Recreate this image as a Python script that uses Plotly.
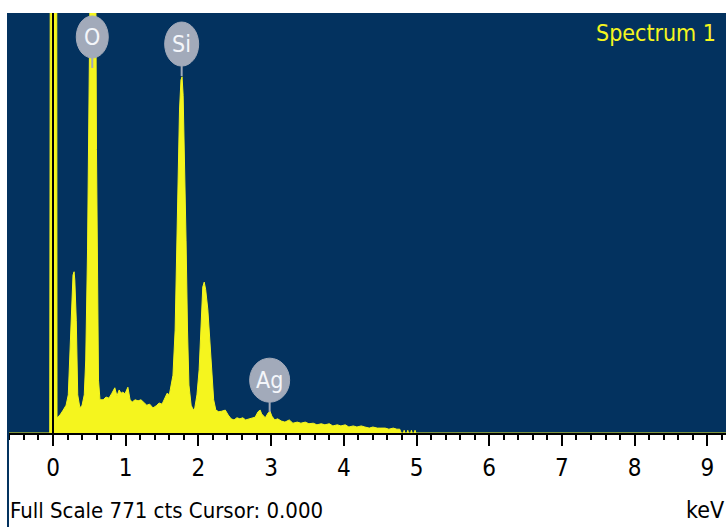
import plotly.graph_objects as go

# ---- data ----
energy_kev = [-0.62, -0.045, -0.035, 0.05, 0.055, 0.096, 0.14, 0.18, 0.21, 0.23, 0.26, 0.275, 0.29, 0.30,
              0.32, 0.33, 0.34, 0.37, 0.40, 0.43, 0.45, 0.475, 0.495, 0.515, 0.53, 0.56, 0.578, 0.598,
              0.612, 0.626, 0.646, 0.69, 0.73, 0.77, 0.81, 0.85, 0.88, 0.91, 0.935, 0.96, 0.99,
              1.02, 1.03, 1.06, 1.09, 1.13, 1.17, 1.21, 1.25, 1.29, 1.33, 1.375, 1.42, 1.46, 1.50,
              1.54, 1.57, 1.60, 1.62, 1.65, 1.68, 1.70, 1.72, 1.74, 1.76, 1.775, 1.79, 1.81, 1.83,
              1.85, 1.87, 1.90, 1.93, 1.95, 1.98, 2.01, 2.04, 2.06, 2.08, 2.10, 2.13, 2.16, 2.19,
              2.21, 2.24, 2.28, 2.32, 2.37, 2.41, 2.45, 2.49, 2.53, 2.57, 2.61, 2.65, 2.70, 2.74,
              2.78, 2.82, 2.85, 2.87, 2.92, 2.96, 2.985, 3.01, 3.05, 3.09, 3.14, 3.19, 3.25, 3.30,
              3.36, 3.41, 3.47, 3.52, 3.58, 3.63, 3.69, 3.74, 3.80, 3.85, 3.91, 3.96, 4.02, 4.07,
              4.13, 4.18, 4.24, 4.29, 4.35, 4.40, 4.46, 4.51, 4.57, 4.62, 4.68, 4.73, 4.77, 4.79,
              4.82, 4.83, 4.84, 4.87, 4.88, 4.89, 4.92, 4.93, 4.94, 4.97, 4.98, 4.99,
              9.3]
counts = [0, 0, 1200, 1200, 28, 33, 42, 51, 70, 134, 244, 290, 296, 281,
          207, 116, 70, 46, 51, 70, 134, 336, 575, 887, 1200, 1200, 1200, 520,
          244, 97, 61, 61, 66, 64, 73, 83, 68, 79, 73, 75, 72,
          79, 84, 61, 57, 61, 59, 61, 55, 51, 53, 46, 50, 55, 53,
          64, 73, 70, 88, 106, 189, 318, 483, 593, 648, 654, 620, 501, 354,
          189, 88, 51, 42, 46, 70, 116, 207, 268, 277, 263, 226, 162, 97,
          61, 42, 39, 40, 42, 33, 26, 24, 28, 26, 28, 24, 26, 28,
          29, 39, 42, 35, 28, 37, 40, 31, 24, 26, 22, 20, 24, 18,
          20, 18, 20, 17, 18, 15, 17, 15, 17, 13, 15, 13, 15, 11,
          13, 11, 13, 11, 9, 11, 9, 9, 9, 7, 9, 7, 7, 0,
          0, 5, 0, 0, 5, 0, 0, 5, 0, 0, 5, 0,
          0]

tick_values = [0, 1, 2, 3, 4, 5, 6, 7, 8, 9]
tick_labels = ["0", "1", "2", "3", "4", "5", "6", "7", "8", "9"]

peak_labels = ["O", "Si", "Ag"]
peak_label_kev = [0.54, 1.77, 2.98]
peak_label_cts = [727, 714, 97]
peak_label_halfwidth = [16, 17, 20]
peak_label_halfheight = [21, 22, 22]

full_scale = 771
cursor_kev = 0.0

BG = "#03325F"
YEL = "#F5F51E"
LBL = "#A2AABA"
FONT = "Liberation Sans Narrow, Arial Narrow, DejaVu Sans Condensed, sans-serif"

fig = go.Figure()
fig.add_trace(go.Scatter(x=energy_kev, y=counts, mode="lines", fill="tozeroy",
                         line=dict(color=YEL, width=1), fillcolor=YEL,
                         hoverinfo="skip", showlegend=False))

shapes = []
# cursor line
shapes.append(dict(type="line", xref="x", yref="paper", x0=cursor_kev, x1=cursor_kev,
                   y0=0, y1=1, line=dict(color="black", width=2)))
# left border strip
shapes.append(dict(type="line", xref="paper", yref="paper", x0=0, x1=0, y0=-0.3, y1=1,
                   line=dict(color=BG, width=2)))
annotations = []
for name, e, c, hw, hh in zip(peak_labels, peak_label_kev, peak_label_cts,
                              peak_label_halfwidth, peak_label_halfheight):
    shapes.append(dict(type="line", xref="x", yref="y", xsizemode="pixel", ysizemode="pixel",
                       xanchor=e, yanchor=c, x0=0, x1=0, y0=-hh, y1=-hh - 10,
                       line=dict(color=LBL, width=2)))
    shapes.append(dict(type="circle", xref="x", yref="y", xsizemode="pixel", ysizemode="pixel",
                       xanchor=e, yanchor=c, x0=-hw, x1=hw, y0=-hh, y1=hh,
                       fillcolor=LBL, line=dict(color=LBL, width=1)))
    annotations.append(dict(x=e, y=c, xref="x", yref="y", text=name, showarrow=False,
                            font=dict(family=FONT, size=23, color="#F4F6FA"),
                            xanchor="center", yanchor="middle"))

annotations.append(dict(x=(718 - 8) / 718, y=1 - (33 - 13) / 420, xref="paper", yref="paper",
                        text="Spectrum 1", showarrow=False, xanchor="right", yanchor="middle",
                        font=dict(family=FONT, size=23, color=YEL)))
annotations.append(dict(x=(10 - 8) / 718, y=-(510 - 433) / 420, xref="paper", yref="paper",
                        text="Full Scale %d cts Cursor: %.3f" % (full_scale, cursor_kev),
                        showarrow=False, xanchor="left", yanchor="middle", xshift=-2,
                        font=dict(family=FONT, size=22, color="black")))
annotations.append(dict(x=1.0, y=-(510 - 433) / 420, xref="paper", yref="paper",
                        text="keV", showarrow=False, xanchor="right", yanchor="middle",
                        font=dict(family=FONT, size=23, color="black")))

fig.update_layout(
    width=726, height=527,
    margin=dict(l=8, r=0, t=13, b=94, pad=0),
    paper_bgcolor="white", plot_bgcolor=BG,
    shapes=shapes, annotations=annotations, showlegend=False,
    xaxis=dict(range=[-0.619, 9.257], tickmode="array", tickvals=tick_values, ticktext=tick_labels,
               ticks="outside", ticklen=11, tickwidth=1.5, tickcolor="black",
               showgrid=False, zeroline=False, showline=True, linecolor="black", linewidth=2,
               tickfont=dict(family=FONT, size=24, color="black"), ticklabelstandoff=1,
               minor=dict(dtick=0.2, tick0=0, ticks="outside", ticklen=5, tickwidth=1.5,
                          tickcolor="black", showgrid=False),
               fixedrange=True),
    yaxis=dict(range=[0, full_scale], visible=False, showgrid=False, zeroline=False, fixedrange=True),
)

fig.write_html("out.html", config={"displayModeBar": False},
               post_script="document.body.style.margin='0';document.body.style.overflow='hidden';")
